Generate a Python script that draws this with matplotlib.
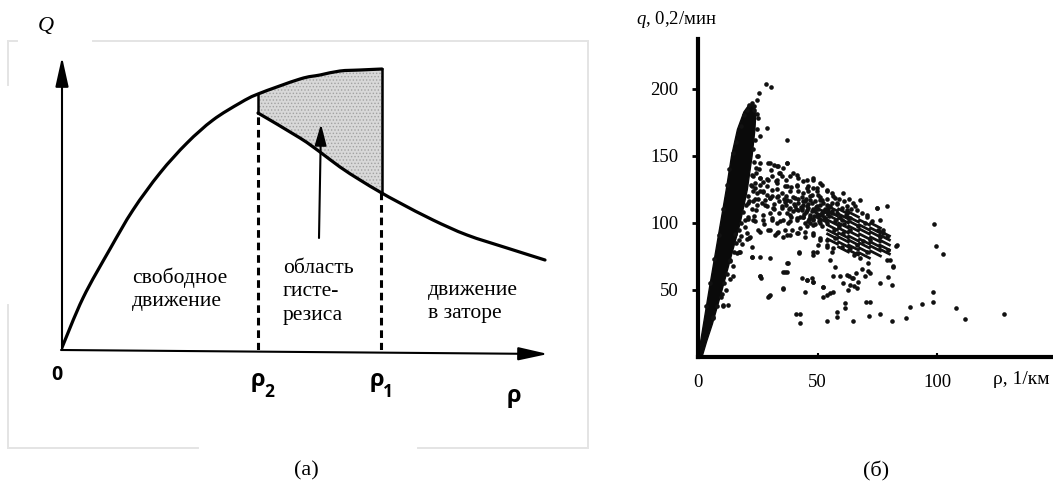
import matplotlib
matplotlib.use("Agg")
import matplotlib.pyplot as plt
from matplotlib.lines import Line2D
from matplotlib.path import Path
from matplotlib.patches import PathPatch
from matplotlib.markers import MarkerStyle
import numpy as np

plt.rcParams['mathtext.fontset'] = 'custom'
plt.rcParams['mathtext.it'] = 'Liberation Serif:italic'
plt.rcParams['mathtext.rm'] = 'Liberation Serif'
plt.rcParams['hatch.linewidth'] = 0.6

SERIF = 'Liberation Serif'
SANS_BOLD = 'Open Sans'

# ---------------- panel (a): schematic fundamental diagram ----------------
free_rho = [0, 22, 49, 72, 99, 126, 152, 179, 197, 239, 259, 279, 299, 321]
free_q = [0, 52, 101, 140, 177, 207, 230, 247, 256, 271, 275, 279, 280, 281]
jam_rho = [197, 239, 259, 279, 299, 319, 339, 372, 406, 446, 484]
jam_q = [237, 212, 198, 183, 170, 158, 147, 130, 115, 102, 90]
rho2 = 197
rho1 = 320
rho1_q = 158
rho_max_a = 487

# ---------------- panel (б): measured flow vs density ----------------
# envelope of the dense free-flow cluster
wedge_q = [0, 12, 25, 50, 75, 100, 125, 150, 170, 183, 188]
wedge_left = [0, 0.9, 2.1, 4.4, 6.8, 9.2, 11.6, 13.8, 16.3, 19.0, 21.0]
wedge_right = [1.4, 3.4, 5.8, 9.8, 13.6, 17.4, 20.4, 22.4, 23.6, 24.0, 22.8]

edge_rho = [17, 18, 19, 20, 21, 22, 23, 23.5, 23, 24, 24.5, 25, 16, 15, 13.5, 12, 11,
            9.5, 8, 22.5, 21, 19.5, 18, 24.5, 25.5, 24, 20.5, 22.5, 21.5, 23.5, 24.8,
            20.5, 16.3, 17.6, 13.4, 10.5, 6.3, 22.6, 20.5, 18.5, 19.8, 21.2, 22.8,
            24.2, 14.8, 13.2, 11.6, 10.2, 17.2, 15.6,
            3.2, 5.0, 6.8, 8.6, 10.4, 12.2, 13.0, 14.6, 16.0, 17.8, 19.4, 26.0, 25.2,
            24.0, 23.4]
edge_q = [95, 100, 108, 113, 120, 128, 135, 145, 155, 162, 170, 178, 85, 78, 72, 62, 55,
          45, 38, 110, 103, 97, 90, 150, 140, 130, 88, 189, 188, 184, 181,
          184, 77.6, 78.4, 71.6, 38, 29.9, 74.6, 92.5, 84, 102, 116, 124,
          141, 68, 58, 50, 47, 87, 92,
          38, 55, 73, 91, 110, 128, 140, 152, 160, 172, 180, 165, 150,
          118, 105]

cong_rho = [29.4, 31.8, 33.6, 35.4, 37.1, 30.4, 34, 35, 39.9, 42, 24.3, 25.9,
            27.3, 28.7, 30.8, 32.6, 36.4, 38.5, 41.3, 44.1, 46.2, 48.3, 49.7, 47.6,
            43.4, 39.9, 36.8, 32.9, 30.1, 25.9, 23.2,
            26.6, 28.7, 31.8, 35, 38.5, 42, 44.8, 46.9, 51, 53.8, 55.9, 57.3, 52.4,
            55.2, 49.7, 46.2, 43.4, 39.9, 37.1, 34, 30.1, 27.3, 24.3,
            23.2, 25.2, 27.6, 30.8, 33.2, 35.7, 38.5, 41.3, 44.1, 46.9, 49.7, 51.7,
            54.5, 58, 60.1, 62.2, 65, 66.4, 68.5, 70.6, 74.8, 63.6, 60.1, 57.3, 53.8,
            51, 48.3, 45.5, 42.7, 39.2, 36.4, 33.6, 30.1,
            32.2, 35.7, 38.5, 42, 44.8, 48.3, 51, 53.8, 57.3, 60.8, 63.6, 67.1, 69.9,
            72.7, 75.5, 77.5, 76.2, 72, 69.2, 66.4, 63.6, 60.1, 56.6, 53.8, 50.3,
            48.3, 79.6, 70.6, 66.4, 78.9,
            44, 45, 46, 47, 48, 49, 50, 50, 51, 52, 53, 53, 45, 47, 48, 49, 51, 43,
            44, 46, 52, 54, 55, 56, 42, 41, 40, 39, 38, 37, 36, 35, 33, 34, 32, 31,
            29, 28, 27, 26, 25, 24, 33, 31, 29, 37, 39, 42, 44, 46, 48, 50, 52, 54,
            56, 58, 59, 61, 63, 64, 62, 57, 59, 61,
            25.9, 30.1, 32.9, 37.1, 34.3, 38.5, 41.3, 45.5, 48.3, 51, 53.8, 49.7, 45.5,
            41.3, 37.1, 32.9, 29.4, 25.9, 22.5, 22.5, 24.5, 27.3, 30.1, 33.6, 37.1,
            40.6, 44.1, 47.6, 51, 54.5, 58, 60.8, 56.6, 62.2, 59.4, 55.9, 52.4, 49,
            45.5, 42, 38.5, 35, 31.5, 28, 24.5, 21.1, 21.1, 23.8, 27.3, 30.8, 34.3,
            37.8, 41.3, 44.8, 48.3, 51.7, 48.3, 44.8, 41.3, 37.1, 32.9, 29.4, 25.9,
            21.8, 51, 53.8, 49.7, 22.5, 74.8, 67.8, 65.7, 70.6, 76.2, 77.5, 78.9,
            43.5, 45.5, 47.5, 49.5, 51.5, 44.5, 46.5, 48.5, 50.5, 42.5, 40.5, 38.5,
            36.5, 47, 52.5, 54.5]
cong_q = [144.5, 143.3, 142, 140.8, 144.5, 139, 137, 134.6, 137, 133.3, 137, 133.3,
          130.1, 127.1, 124.6, 130.8, 127.1, 123.4, 128.4, 130.8, 127.1, 132, 125.9,
          120.9, 119.6, 119.6, 120.1, 119.6, 118.4, 123.4, 115.9,
          114.7, 112.2, 114.2, 110.9, 115.9, 114.7, 115.9, 117.2, 119.6, 123.4, 122.1,
          118.4, 114.7, 112.2, 112.2, 110.9, 109.7, 108.5, 107.2, 107.2, 107.2, 106,
          109.7,
          102.2, 94.8, 99.3, 102.2, 100.2, 102.2, 101, 103.5, 104.7, 104.7, 106, 107.2,
          107.2, 107.2, 110.9, 112.2, 114.7, 109.7, 107.2, 104.7, 111.4, 103.5, 102.2,
          101, 99.8, 99.8, 98.5, 97.3, 96, 94.8, 94.8, 93.5, 94.8,
          91, 89.3, 91, 92.3, 89.8, 91, 88.6, 87.3, 88.6, 92.3, 94.8, 97.3, 99.8, 101,
          94.8, 92.3, 89.8, 87.3, 86.1, 83.6, 81.1, 82.3, 81.1, 82.3, 83.6, 78.6, 79.9,
          78.6, 77.4, 112.2,
          113, 108, 114, 106, 110, 116, 104, 110, 113, 107, 103, 110, 118, 120, 103,
          99, 102, 112, 104, 101, 117, 113, 105, 109, 118, 110, 114, 104, 110, 113,
          118, 122, 125, 116, 110, 120, 121, 117, 123, 128, 118, 126, 132, 135, 133,
          132, 127, 124, 122, 124, 126, 121, 128, 118, 115, 114, 118, 116, 118, 110,
          106, 95, 98, 99,
          144.5, 144.5, 142, 144.5, 137.1, 134.6, 135.8, 132.1, 133.3, 129.6, 124.6,
          123.4, 125.9, 127.1, 127.1, 129.6, 132.1, 133.3, 135.8, 127.1, 122.1, 123.4,
          118.4, 119.7, 117.2, 118.4, 115.9, 114.7, 117.2, 112.2, 114.7, 122.1, 119.7,
          109.7, 104.7, 107.2, 108.5, 108.5, 109.7, 109.7, 110.9, 112.2, 110.9, 113.4,
          113.4, 114.7, 104.7, 101, 102.2, 103.5, 101, 99.8, 102.2, 99.8, 102.2, 97.3,
          92.3, 93.5, 92.3, 91, 92.3, 94.8, 93.5, 89.8, 87.3, 83.6, 78.6, 82.3, 110.9,
          117.2, 112.2, 106, 102.2, 94.8, 89.8,
          111, 112.5, 108.5, 111.5, 105.5, 106.5, 103, 105, 101, 104.5, 112.5, 106,
          115.5, 99.5, 104, 110]

sparse_rho = [43.4, 45.5, 48.3, 47.8, 44.8, 35.7, 37.8, 36.4, 29.8, 26, 22.5, 17.3,
              21.5, 12.7, 6.4, 14.5, 42.4, 48.3, 56, 55.3, 57.3, 65.3, 67.8, 71.3,
              59.4, 63.3, 66.1, 68.5, 71.3, 67.1, 64.3, 62.9, 63.6, 65.3, 52.4, 52.2,
              53.8, 55.2, 56.6, 61.5, 61.5, 58.3, 70.3, 72, 41, 42.7, 42.7, 53.8, 58,
              64.7, 71.7, 76.2, 81, 87, 88.7, 93.6, 98.5, 98.2, 82.8, 81.4, 79.2, 79.6,
              81, 98.7, 99.6, 102.6, 108, 111.7, 128, 37.1, 29, 28.5, 30.4, 25.7, 24.5,
              23.4, 26.4, 29.3, 35.6, 37.2, 42.3, 25.9, 30.1, 37.1, 35.7, 25.9, 30.1,
              10.6, 45.5, 48.3, 52.4, 56.6, 60.8, 62.2, 65, 66.4, 69.9, 72, 76.2, 80.3,
              81.7, 83.1]
sparse_q = [58.7, 57.5, 56.2, 58.7, 48.8, 51.2, 69.9, 63.7, 45.5, 60, 74.4, 78.6,
            88.6, 38.8, 28.9, 60, 77.9, 76.1, 77.9, 72.4, 67.4, 76.1, 73.6, 69.9,
            60, 60.4, 62.9, 65.4, 64.4, 56.2, 58.7, 50, 53.7, 53, 52.5, 45,
            46.3, 47.5, 48.8, 40, 36.3, 33.8, 41.3, 41.3, 32.1, 32.1, 25.6, 27.1, 29.6,
            27.1, 30.6, 32.1, 27.1, 28.9, 37.1, 39.6, 41.3, 48.8, 82.8, 67.9, 72.4, 59.5,
            53.7, 99.3, 82.8, 76.9, 36.3, 28.1, 32.1, 162, 170.6, 203.7, 201.2, 196.8,
            191.8, 187.3, 59, 44.8, 50.7, 63.4, 77.6, 74.9, 73.6, 69.9, 63.7, 60, 46.3,
            38.8, 57.5, 56.2, 52.5, 60, 55, 61.2, 58.7, 51.2, 60, 62.4, 55, 72.4,
            67.4, 83.6]

# centres of the short diagonal streaks made by quantised readings
streak_rho = [51.5, 51.5, 51.5,
              56, 56, 56, 56, 56, 56, 56, 56,
              60.5, 60.5, 60.5, 60.5, 60.5, 60.5, 60.5, 60.5, 60.5,
              65, 65, 65, 65, 65, 65, 65, 65, 65,
              69.5, 69.5, 69.5, 69.5, 69.5, 69.5, 69.5, 69.5,
              74, 74, 74, 74, 74, 74, 74,
              78, 78, 78, 78, 78]
streak_q = [109.5, 106, 102.5,
            111, 107.5, 104, 100.5, 97, 93.5, 90, 86.5,
            108.75, 105.25, 101.75, 98.25, 94.75, 91.25, 87.75, 84.25, 80.75,
            106.5, 103, 99.5, 96, 92.5, 89, 85.5, 82, 78.5,
            100.75, 97.25, 93.75, 90.25, 86.75, 83.25, 79.75, 76.25,
            98.5, 95, 91.5, 88, 84.5, 81, 77.5,
            92.75, 89.25, 85.75, 82.25, 78.75]

y_ticks = [50, 100, 150, 200]
x_ticks = [0, 50, 100]

W, H = 1053, 491
fig = plt.figure(figsize=(W / 100, H / 100), dpi=100)


def fx(px):
    return px / W


def fy(py):
    return 1 - py / H


def smooth_path(xs, ys):
    """Cubic Bezier path passing through the given points (Catmull-Rom tangents)."""
    p = np.column_stack([xs, ys]).astype(float)
    verts = [p[0]]
    codes = [Path.MOVETO]
    n = len(p)
    for i in range(n - 1):
        p0 = p[i - 1] if i > 0 else p[i]
        p1, p2 = p[i], p[i + 1]
        p3 = p[i + 2] if i + 2 < n else p[i + 1]
        verts += [p1 + (p2 - p0) / 6, p2 - (p3 - p1) / 6, p2]
        codes += [Path.CURVE4] * 3
    return Path(verts, codes)


# light frame around the schematic
frame_col = '#e4e4e4'
for (x0, y0, x1, y1) in [(8, 41, 17, 41), (93, 41, 588, 41), (8, 41, 8, 85),
                         (8, 305, 8, 448), (588, 41, 588, 448),
                         (8, 448, 198, 448), (418, 448, 588, 448)]:
    fig.add_artist(Line2D([fx(x0), fx(x1)], [fy(y0), fy(y1)], color=frame_col,
                          lw=1.4, transform=fig.transFigure))

ax_a = fig.add_axes([fx(61), fy(350), (560 - 61) / W, (350 - 40) / H])
ax_a.set_xlim(0, 499)
ax_a.set_ylim(0, 310)
ax_a.axis('off')

# shaded hysteresis region
i2 = free_rho.index(rho2)
inner = [(r, q) for r, q in zip(jam_rho[::-1], jam_q[::-1]) if r < free_rho[-1]]
poly_x = free_rho[i2:] + [free_rho[-1]] + [r for r, _ in inner] + [rho2]
poly_y = free_q[i2:] + [rho1_q] + [q for _, q in inner] + [free_q[i2]]
ax_a.fill(poly_x, poly_y, facecolor='#d8d8d8', edgecolor='#a2a2a2', hatch='.....', lw=0)

for xs, ys in [(free_rho, free_q), (jam_rho, jam_q)]:
    ax_a.add_patch(PathPatch(smooth_path(xs, ys), fill=False, edgecolor='black',
                             lw=2.3, capstyle='round', joinstyle='round'))
ax_a.plot([free_rho[-1], free_rho[-1]], [free_q[-1], rho1_q], color='black', lw=1.8)
ax_a.plot([rho2, rho2], [jam_q[0], free_q[i2]], color='black', lw=1.8)
ax_a.plot([rho2, rho2], [0, jam_q[0]], color='black', lw=2.2, ls=(0, (2.5, 1.6)))
ax_a.plot([rho1, rho1], [0, rho1_q], color='black', lw=2.2, ls=(0, (2.5, 1.6)))

arrow_kw = dict(arrowstyle='-|>,head_length=0.9,head_width=0.2', color='black',
                lw=1.5, mutation_scale=20, shrinkA=0, shrinkB=0)
ax_a.annotate('', xy=(1, 293), xytext=(1, 0), arrowprops=arrow_kw, annotation_clip=False)
ax_a.annotate('', xy=(rho_max_a, -4), xytext=(0, 0), arrowprops=arrow_kw, annotation_clip=False)
ax_a.annotate('', xy=(260, 226), xytext=(258, 112),
              arrowprops=dict(arrowstyle='-|>,head_length=0.8,head_width=0.22', color='black',
                              lw=1.5, mutation_scale=16, shrinkA=0, shrinkB=0))

lab_kw = dict(fontfamily=SANS_BOLD, fontweight='bold', ha='center', va='center',
              clip_on=False)
ax_a.text(-4, -25, '0', fontsize=14, **lab_kw)
ax_a.text(197, -30, 'ρ', fontsize=17, **lab_kw)
ax_a.text(208, -42, '2', fontsize=12.5, **lab_kw)
ax_a.text(316, -30, 'ρ', fontsize=17, **lab_kw)
ax_a.text(327, -42, '1', fontsize=12.5, **lab_kw)
ax_a.text(453, -46, 'ρ', fontsize=17, **lab_kw)
ax_a.text(-15, 325, r'$Q$', fontsize=16, ha='center', va='center', clip_on=False)

txt_kw = dict(fontfamily=SERIF, fontsize=15.5, ha='left', va='center', linespacing=1.3)
ax_a.text(71, 61, 'свободное\nдвижение', **txt_kw)
ax_a.text(222, 58, 'область\nгисте-\nрезиса', **txt_kw)
ax_a.text(367, 48, 'движение\nв заторе', **txt_kw)

# ---------------- panel (б) ----------------
ax_b = fig.add_axes([fx(698), fy(357), (W - 698) / W, (357 - 39) / H])
ax_b.set_xlim(0, 148.5)
ax_b.set_ylim(0, 237)
for s in ['top', 'right']:
    ax_b.spines[s].set_visible(False)
for s in ['left', 'bottom']:
    ax_b.spines[s].set_linewidth(3.0)
ax_b.set_yticks(y_ticks)
ax_b.set_yticklabels([str(v) for v in y_ticks], fontfamily=SERIF, fontsize=13.5)
ax_b.set_xticks(x_ticks)
ax_b.set_xticklabels([str(v) for v in x_ticks], fontfamily=SERIF, fontsize=13.5)
ax_b.tick_params(axis='y', direction='out', length=4, width=2, pad=10)
ax_b.tick_params(axis='x', direction='in', length=3, width=1.5, pad=12)
ax_b.patch.set_alpha(0)

ax_b.fill_betweenx(wedge_q, wedge_left, wedge_right, color='#0a0a0a', lw=1.0,
                   edgecolor='#0a0a0a')
dot = dict(s=11, color='#111111', linewidths=0)
ax_b.scatter(edge_rho, edge_q, **dot)
ax_b.scatter(cong_rho, cong_q, **dot)
ax_b.scatter(sparse_rho, sparse_q, clip_on=False, **dot)

# streak marker: a short bar tilted down to the right
ang = np.deg2rad(-27)
bar = np.array([[-1, -0.2], [1, -0.2], [1, 0.2], [-1, 0.2], [-1, -0.2]])
rot = np.array([[np.cos(ang), -np.sin(ang)], [np.sin(ang), np.cos(ang)]])
streak_marker = MarkerStyle(Path(bar @ rot.T, closed=True))
ax_b.scatter(streak_rho, streak_q, marker=streak_marker, s=95, color='#111111',
             linewidths=0)

fig.text(fx(636), fy(20), r'$q$, 0,2/мин', fontfamily=SERIF, fontsize=13.5,
         ha='left', va='center')
fig.text(fx(993), fy(380), 'ρ, 1/км', fontfamily=SERIF, fontsize=14,
         ha='left', va='center')
fig.text(fx(306), fy(471), '(a)', fontfamily=SERIF, fontsize=16, ha='center', va='center')
fig.text(fx(876), fy(471), '(б)', fontfamily=SERIF, fontsize=16, ha='center', va='center')

fig.savefig('out.png', dpi=100)
